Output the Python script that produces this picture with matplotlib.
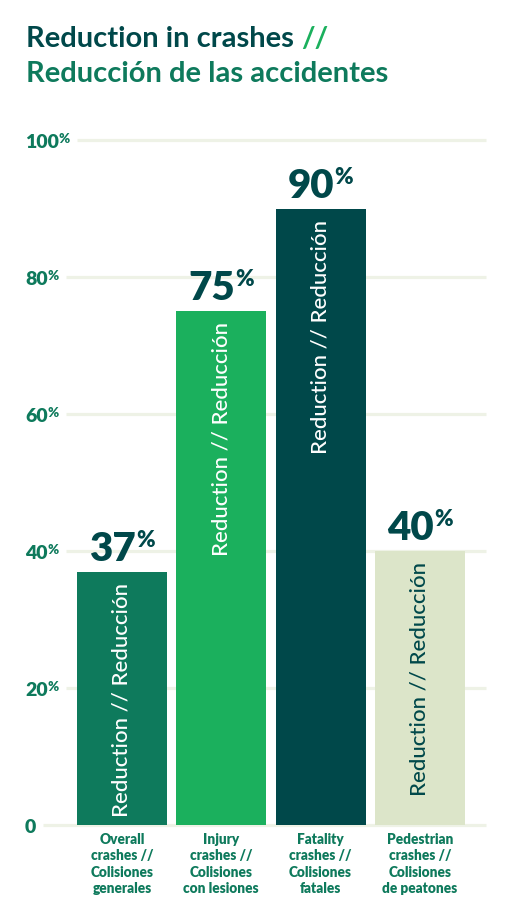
import matplotlib
matplotlib.use("Agg")
import matplotlib.pyplot as plt
from matplotlib.transforms import IdentityTransform, ScaledTranslation

# ---- data ----
categories = ["Overall\ncrashes //\nColisiones\ngenerales",
              "Injury\ncrashes //\nColisiones\ncon lesiones",
              "Fatality\ncrashes //\nColisiones\nfatales",
              "Pedestrian\ncrashes //\nColisiones\nde peatones"]
values = [37, 75, 90, 40]
bar_text = "Reduction // Reducción"
y_ticks = [0, 20, 40, 60, 80, 100]
y_tick_labels = ["0", "20", "40", "60", "80", "100"]

# ---- style ----
bar_colors = ["#0E7A5C", "#1BB05D", "#00484A", "#DCE5C9"]
inner_text_colors = ["white", "white", "white", "#00484A"]
DARK = "#00484A"
MID = "#0E7A5C"
LIGHT = "#1BB05D"
GRID = "#EEF2E6"
FONT = "Lato"
HEAVY = "heavy"
plt.rcParams['font.family'] = [FONT, 'DejaVu Sans']

W, H = 510, 920
fig = plt.figure(figsize=(W / 100, H / 100), dpi=100)
ax = fig.add_axes([45 / W, 94 / H, 441 / W, 685 / H])
ax.set_xlim(-0.775, 3.666)
ax.set_ylim(0, 100)
ax.axis("off")

x = list(range(len(values)))
ax.bar(x, values, width=0.906, color=bar_colors, zorder=3)

fig.canvas.draw()
renderer = fig.canvas.get_renderer()
ident = IdentityTransform()
px = 100 / 72.0  # pixels per point


def to_disp(xd, yd):
    return ax.transData.transform((xd, yd))


def text_width(t):
    return t.get_window_extent(renderer).width


# ---- title ----
t1 = fig.text(26, H - 47, "Reduction in crashes ", transform=ident, fontsize=21,
              fontweight="bold", color=DARK, ha="left", va="baseline")
w1 = text_width(t1)
fig.text(26 + w1, H - 47, "//", transform=ident, fontsize=21,
         fontweight="bold", color=LIGHT, ha="left", va="baseline")
fig.text(26, H - 82, "Reducción de las accidentes", transform=ident, fontsize=21,
         fontweight="bold", color=MID, ha="left", va="baseline")

# ---- y tick labels & gridlines ----
tick_size, tick_sup = 14, 9.5
cap = 0.72
for yv, lab in zip(y_ticks, y_tick_labels):
    _, yd = to_disp(0, yv)
    base = yd - cap * tick_size * px / 2
    t = fig.text(25, base, lab, transform=ident, fontsize=tick_size,
                 fontweight=HEAVY, color=MID, ha="left", va="baseline")
    right = 25 + text_width(t)
    if yv != 0:
        s = fig.text(right, base + cap * (tick_size - tick_sup) * px + 0.5, "%",
                     transform=ident, fontsize=tick_sup, fontweight=HEAVY,
                     color=MID, ha="left", va="baseline")
        right = right + text_width(s)
    x0 = ax.transData.inverted().transform((right + 7, yd))[0]
    ax.hlines(yv, x0, 3.666, color=GRID, linewidth=2.3, zorder=1, clip_on=False)

# ---- value labels ----
val_size, val_sup = 29, 16
for xi, v in zip(x, values):
    cx, top = to_disp(xi, v)
    base = top + 12
    t = fig.text(0, base, str(v), transform=ident, fontsize=val_size,
                 fontweight=HEAVY, color=DARK, ha="left", va="baseline", zorder=5)
    s = fig.text(0, base + cap * (val_size - val_sup) * px + 1, "%", transform=ident,
                 fontsize=val_sup, fontweight=HEAVY, color=DARK, ha="left",
                 va="baseline", zorder=5)
    wm, ws = text_width(t), text_width(s)
    total = wm + ws
    left = cx - total / 2
    t.set_x(left)
    s.set_x(left + wm)

# ---- inner rotated text ----
for xi, v, c in zip(x, values, inner_text_colors):
    ax.text(xi, v, bar_text, rotation=90, ha="center", va="top", fontsize=16,
            fontweight=500, color=c, zorder=4,
            transform=ax.transData + ScaledTranslation(0, -10 / 100, fig.dpi_scale_trans))

# ---- category labels ----
for xi, lab in zip(x, categories):
    cx, _ = to_disp(xi, 0)
    fig.text(cx, H - 833, lab, transform=ident, fontsize=9.8, fontweight=HEAVY,
             color=MID, ha="center", va="top", linespacing=1.3)

fig.savefig("out.png", dpi=100)
